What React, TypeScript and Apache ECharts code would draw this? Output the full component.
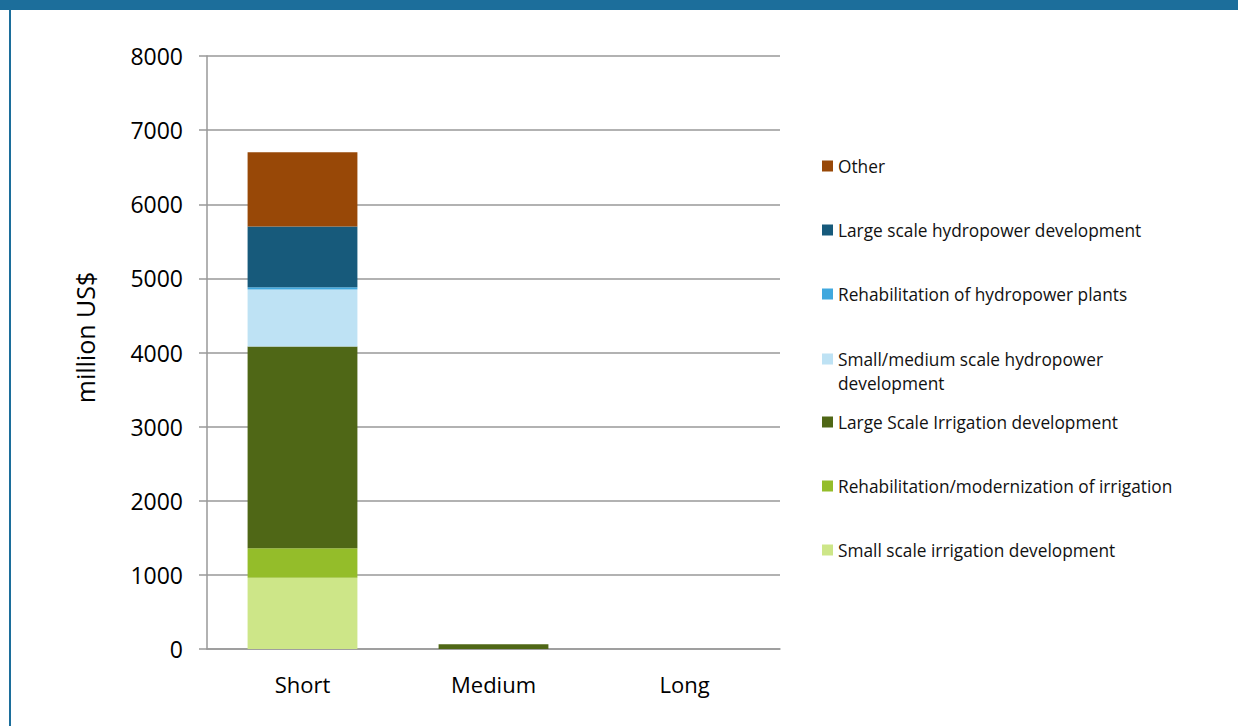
import React, { useEffect, useRef } from "react";
import * as echarts from "echarts";

const categories = ["Short", "Medium", "Long"];
const seriesNames = [
  "Small scale irrigation development",
  "Rehabilitation/modernization of irrigation",
  "Large Scale Irrigation development",
  "Small/medium scale hydropower development",
  "Rehabilitation of hydropower plants",
  "Large scale hydropower development",
  "Other",
];
const smallIrrigation = [960, 0, 0];
const rehabIrrigation = [400, 0, 0];
const largeIrrigation = [2720, 65, 0];
const smallMediumHydro = [770, 0, 0];
const rehabHydro = [30, 0, 0];
const largeHydro = [820, 0, 0];
const other = [1000, 0, 0];
const seriesValues = [
  smallIrrigation,
  rehabIrrigation,
  largeIrrigation,
  smallMediumHydro,
  rehabHydro,
  largeHydro,
  other,
];
const colors = ["#cde688", "#94bd2a", "#4f6716", "#bee2f4", "#40a8de", "#175a7b", "#984807"];
const legendLabels = [
  "Small scale irrigation development",
  "Rehabilitation/modernization of irrigation",
  "Large Scale Irrigation development",
  "Small/medium scale hydropower\ndevelopment",
  "Rehabilitation of hydropower plants",
  "Large scale hydropower development",
  "Other",
];
const yTicks = [0, 1000, 2000, 3000, 4000, 5000, 6000, 7000, 8000];

export default function App() {
  const ref = useRef<HTMLDivElement>(null);
  useEffect(() => {
    if (!ref.current) return;
    const chart = echarts.init(ref.current, null, { renderer: "svg" });
    const font = "'Open Sans', sans-serif";
    // legend rows top-to-bottom: Other first
    const legendTops = [551, 487, 423, 359, 295, 231, 167];
    const legends = seriesNames.map((name, i) => {
      const twoLine = i === 3;
      return {
        orient: "vertical",
        left: 822,
        top: twoLine ? legendTops[i] - 12 : legendTops[i] - 13,
        itemWidth: 11,
        itemHeight: twoLine ? 35 : 11,
        icon: twoLine ? "path://M0,0L11,0L11,11L0,11ZM0,35L11,35" : "rect",
        padding: 0,
        data: [name],
        selectedMode: false,
        formatter: () => legendLabels[i],
        textStyle: {
          fontFamily: font,
          fontSize: 17.3,
          color: "#111111",
          lineHeight: 24,
        },
      };
    });
    chart.setOption({
      animation: false,
      backgroundColor: "#ffffff",
      textStyle: { fontFamily: font },
      grid: { left: 207, right: 458, top: 56, bottom: 77, containLabel: false },
      legend: legends,
      xAxis: {
        type: "category",
        data: categories,
        axisLine: { lineStyle: { color: "#999999", width: 1.5 } },
        axisTick: { show: false },
        axisLabel: { fontSize: 22, color: "#000", margin: 24, fontFamily: font },
      },
      yAxis: {
        type: "value",
        min: 0,
        max: yTicks[yTicks.length - 1],
        interval: 1000,
        name: "million US$",
        nameLocation: "middle",
        nameGap: 110,
        nameRotate: 90,
        nameTextStyle: { fontSize: 25, color: "#000", fontFamily: font, padding: [0, 0, 0, 30] },
        axisLine: { show: true, lineStyle: { color: "#999999", width: 1.5 } },
        axisTick: { show: true, length: 8, lineStyle: { color: "#999999", width: 1.5 } },
        splitLine: { lineStyle: { color: "#999999", width: 1.5 } },
        axisLabel: {
          fontSize: 23,
          color: "#000",
          margin: 24,
          fontFamily: font,
          formatter: (v: number) => String(v),
        },
      },
      series: seriesNames.map((name, i) => ({
        name,
        type: "bar",
        stack: "total",
        data: seriesValues[i],
        barWidth: "57.5%",
        itemStyle: { color: colors[i] },
      })),
      graphic: [
        { type: "rect", left: 0, top: 0, shape: { width: 1238, height: 10 }, style: { fill: "#1c6e9b" } },
        { type: "rect", left: 9, top: 0, shape: { width: 2, height: 726 }, style: { fill: "#1c6e9b" } },
      ],
    });
    return () => chart.dispose();
  }, []);
  return (
    <div
      ref={ref}
      style={{ position: "fixed", left: 0, top: 0, width: 1238, height: 726 }}
    />
  );
}
